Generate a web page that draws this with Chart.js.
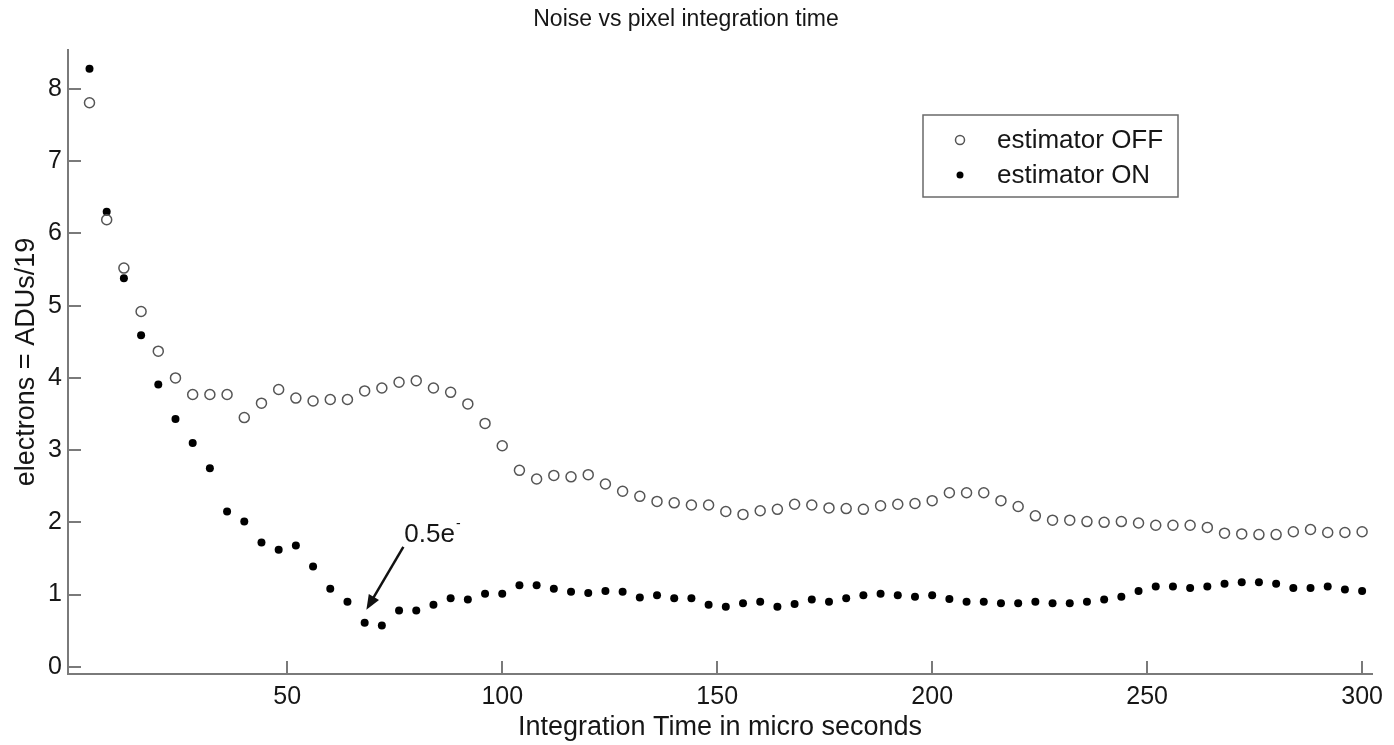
<!DOCTYPE html>
<html>
<head>
<meta charset="utf-8">
<title>Noise vs pixel integration time</title>
<script src="https://cdn.jsdelivr.net/npm/chart.js@4.4.1/dist/chart.umd.min.js"></script>
<style>
  body { margin: 0; background: #fff; }
  canvas { display: block; }
</style>
</head>
<body>
<canvas id="noise" width="1394" height="745"></canvas>
<script>
// integration time (micro seconds)
const times = [4, 8, 12, 16, 20, 24, 28, 32, 36, 40, 44, 48, 52, 56, 60, 64, 68, 72, 76, 80,
  84, 88, 92, 96, 100, 104, 108, 112, 116, 120, 124, 128, 132, 136, 140, 144, 148, 152, 156, 160,
  164, 168, 172, 176, 180, 184, 188, 192, 196, 200, 204, 208, 212, 216, 220, 224, 228, 232, 236, 240,
  244, 248, 252, 256, 260, 264, 268, 272, 276, 280, 284, 288, 292, 296, 300];

// noise in electrons, estimator off
const noiseOff = [7.81, 6.19, 5.52, 4.92, 4.37, 4.00, 3.77, 3.77, 3.77, 3.45, 3.65, 3.84, 3.72, 3.68, 3.70, 3.70, 3.82, 3.86, 3.94, 3.96,
  3.86, 3.80, 3.64, 3.37, 3.06, 2.72, 2.60, 2.65, 2.63, 2.66, 2.53, 2.43, 2.36, 2.29, 2.27, 2.24, 2.24, 2.15, 2.11, 2.16,
  2.18, 2.25, 2.24, 2.20, 2.19, 2.18, 2.23, 2.25, 2.26, 2.30, 2.41, 2.41, 2.41, 2.30, 2.22, 2.09, 2.03, 2.03, 2.01, 2.00,
  2.01, 1.99, 1.96, 1.96, 1.96, 1.93, 1.85, 1.84, 1.83, 1.83, 1.87, 1.90, 1.86, 1.86, 1.87];

// noise in electrons, estimator on
const noiseOn = [8.28, 6.30, 5.38, 4.59, 3.91, 3.43, 3.10, 2.75, 2.15, 2.01, 1.72, 1.62, 1.68, 1.39, 1.08, 0.90, 0.61, 0.57, 0.78, 0.78,
  0.86, 0.95, 0.93, 1.01, 1.01, 1.13, 1.13, 1.08, 1.04, 1.02, 1.05, 1.04, 0.96, 0.99, 0.95, 0.95, 0.86, 0.83, 0.88, 0.90,
  0.83, 0.87, 0.93, 0.90, 0.95, 0.99, 1.01, 0.99, 0.97, 0.99, 0.94, 0.90, 0.90, 0.88, 0.88, 0.90, 0.88, 0.88, 0.90, 0.93,
  0.97, 1.05, 1.11, 1.11, 1.09, 1.11, 1.15, 1.17, 1.17, 1.15, 1.09, 1.09, 1.11, 1.07, 1.05];

const xTicks = [50, 100, 150, 200, 250, 300];
const yTicks = [0, 1, 2, 3, 4, 5, 6, 7, 8];

// arrow pointing to the minimum: [time, electrons] of tail and tip, label text
const noteTail = [77, 1.66];
const noteTip = [68.4, 0.79];
const noteText = '0.5e';

const FONT = '"Liberation Sans", Arial, sans-serif';
const TEXT = '#161616';
const AXIS = '#7a7a7a';

function toPoints(xs, ys) {
  return xs.map((x, i) => ({ x: x, y: ys[i] }));
}

// matlab style ticks pointing into the plot
const innerTicks = {
  id: 'innerTicks',
  afterDraw(chart) {
    const { ctx, chartArea, scales } = chart;
    ctx.save();
    ctx.strokeStyle = AXIS;
    ctx.lineWidth = 2;
    ctx.beginPath();
    yTicks.forEach(v => {
      const py = Math.round(scales.y.getPixelForValue(v));
      ctx.moveTo(chartArea.left, py);
      ctx.lineTo(chartArea.left + 13, py);
    });
    xTicks.forEach(v => {
      const px = Math.round(scales.x.getPixelForValue(v));
      ctx.moveTo(px, chartArea.bottom);
      ctx.lineTo(px, chartArea.bottom - 13);
    });
    ctx.stroke();
    ctx.restore();
  }
};

// boxed legend in the upper right, like the original figure
const boxLegend = {
  id: 'boxLegend',
  afterDraw(chart) {
    const { ctx, chartArea } = chart;
    const bx = chartArea.right - 449, by = 115, bw = 255, bh = 82;
    ctx.save();
    ctx.fillStyle = '#fff';
    ctx.fillRect(bx, by, bw, bh);
    ctx.strokeStyle = '#6a6a6a';
    ctx.lineWidth = 1.5;
    ctx.strokeRect(bx, by, bw, bh);
    ctx.font = '26px ' + FONT;
    ctx.textBaseline = 'middle';
    chart.data.datasets.forEach((ds, i) => {
      const cy = by + 25 + i * 35;
      ctx.beginPath();
      ctx.arc(bx + 37, cy, i === 0 ? 4.5 : 3.5, 0, Math.PI * 2);
      if (i === 0) {
        ctx.strokeStyle = ds.borderColor;
        ctx.lineWidth = 1.5;
        ctx.stroke();
      } else {
        ctx.fillStyle = ds.backgroundColor;
        ctx.fill();
      }
      ctx.fillStyle = TEXT;
      ctx.fillText(ds.label, bx + 74, cy + 1);
    });
    ctx.restore();
  }
};

// "0.5e-" note with arrow
const minNote = {
  id: 'minNote',
  afterDraw(chart) {
    const { ctx, scales } = chart;
    const x0 = scales.x.getPixelForValue(noteTail[0]);
    const y0 = scales.y.getPixelForValue(noteTail[1]);
    const x1 = scales.x.getPixelForValue(noteTip[0]);
    const y1 = scales.y.getPixelForValue(noteTip[1]);
    const ang = Math.atan2(y1 - y0, x1 - x0);
    const hl = 16, hw = 0.38;
    ctx.save();
    ctx.strokeStyle = '#111';
    ctx.fillStyle = '#111';
    ctx.lineWidth = 2.5;
    ctx.beginPath();
    ctx.moveTo(x0, y0);
    ctx.lineTo(x1 - Math.cos(ang) * hl * 0.8, y1 - Math.sin(ang) * hl * 0.8);
    ctx.stroke();
    ctx.beginPath();
    ctx.moveTo(x1, y1);
    ctx.lineTo(x1 - hl * Math.cos(ang - hw), y1 - hl * Math.sin(ang - hw));
    ctx.lineTo(x1 - hl * Math.cos(ang + hw), y1 - hl * Math.sin(ang + hw));
    ctx.closePath();
    ctx.fill();
    ctx.font = '26px ' + FONT;
    ctx.textBaseline = 'alphabetic';
    ctx.fillStyle = TEXT;
    const tx = x0 + 1, ty = y0 - 5;
    ctx.fillText(noteText, tx, ty);
    const w = ctx.measureText(noteText).width;
    ctx.font = '14px ' + FONT;
    ctx.fillText('-', w + tx + 1, ty - 14);
    ctx.restore();
  }
};

const ctx = document.getElementById('noise');
const noiseChart = new Chart(ctx, {
  type: 'scatter',
  data: {
    datasets: [{
      label: 'estimator OFF',
      data: toPoints(times, noiseOff),
      pointStyle: 'circle',
      pointRadius: 5,
      pointBorderWidth: 1.5,
      borderColor: '#555',
      backgroundColor: 'rgba(255,255,255,0)',
      showLine: false
    }, {
      label: 'estimator ON',
      data: toPoints(times, noiseOn),
      pointStyle: 'circle',
      pointRadius: 4,
      pointBorderWidth: 0,
      borderColor: '#000',
      backgroundColor: '#000',
      showLine: false
    }]
  },
  options: {
    responsive: false,
    animation: false,
    layout: { padding: { left: 0, right: 22, top: 0, bottom: 0 } },
    plugins: {
      legend: { display: false },
      tooltip: { enabled: false },
      title: {
        display: true,
        text: 'Noise vs pixel integration time',
        color: TEXT,
        font: { family: FONT, size: 23, weight: 'normal' },
        padding: { top: 6, bottom: 16.4 }
      }
    },
    scales: {
      x: {
        type: 'linear',
        min: -1,
        max: 302.3,
        afterBuildTicks: s => { s.ticks = xTicks.map(v => ({ value: v })); },
        afterFit: s => { s.height = 71; },
        grid: { display: false, drawTicks: false },
        border: { display: true, color: AXIS, width: 2 },
        ticks: {
          color: TEXT,
          padding: 8,
          maxRotation: 0,
          font: { family: FONT, size: 25 }
        },
        title: {
          display: true,
          text: 'Integration Time in micro seconds',
          color: TEXT,
          font: { family: FONT, size: 27 },
          padding: { top: 0, bottom: 1 }
        }
      },
      y: {
        min: -0.1,
        max: 8.54,
        afterBuildTicks: s => { s.ticks = yTicks.map(v => ({ value: v })); },
        afterFit: s => { s.width = 68; },
        grid: { display: false, drawTicks: false },
        border: { display: true, color: AXIS, width: 2 },
        ticks: {
          color: TEXT,
          padding: 6,
          font: { family: FONT, size: 25 }
        },
        title: {
          display: true,
          text: 'electrons = ADUs/19',
          color: TEXT,
          font: { family: FONT, size: 27 },
          padding: { top: 10, bottom: 0 }
        }
      }
    }
  },
  plugins: [innerTicks, boxLegend, minNote]
});
</script>
</body>
</html>
